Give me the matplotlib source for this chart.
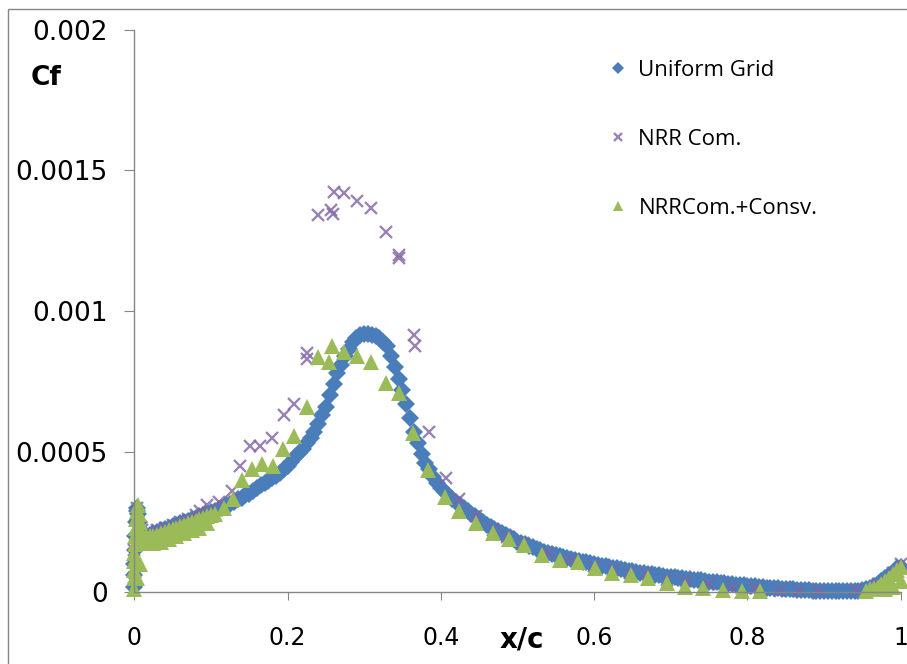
import numpy as np
import matplotlib
matplotlib.use("Agg")
import matplotlib.pyplot as plt
from matplotlib.patches import Rectangle

# Cf distribution along the chord (values in units of 1e-3)
uniform_x = [0.000, 0.000, 0.000, 0.001, 0.001, 0.002, 0.003, 0.004, 0.005, 0.006,
             0.008, 0.010, 0.015, 0.020, 0.025, 0.030, 0.035, 0.040, 0.045, 0.050,
             0.055, 0.060, 0.065, 0.070, 0.075, 0.080, 0.085, 0.090, 0.095, 0.100,
             0.105, 0.110, 0.115, 0.120, 0.125, 0.130, 0.135, 0.140, 0.145, 0.150,
             0.155, 0.160, 0.165, 0.170, 0.175, 0.180, 0.185, 0.190, 0.195, 0.200,
             0.205, 0.210, 0.215, 0.220, 0.225, 0.230, 0.235, 0.240, 0.245, 0.250,
             0.255, 0.260, 0.265, 0.270, 0.275, 0.280, 0.285, 0.290, 0.295, 0.300,
             0.305, 0.310, 0.315, 0.320, 0.325, 0.330, 0.335, 0.340, 0.345, 0.350,
             0.355, 0.360, 0.365, 0.370, 0.375, 0.380, 0.385, 0.390, 0.395, 0.400,
             0.405, 0.410, 0.415, 0.420, 0.425, 0.430, 0.435, 0.440, 0.445, 0.450,
             0.455, 0.460, 0.465, 0.470, 0.475, 0.480, 0.485, 0.490, 0.495, 0.500,
             0.505, 0.510, 0.515, 0.520, 0.525, 0.530, 0.535, 0.540, 0.545, 0.550,
             0.555, 0.560, 0.565, 0.570, 0.575, 0.580, 0.585, 0.590, 0.595, 0.600,
             0.605, 0.610, 0.615, 0.620, 0.625, 0.630, 0.635, 0.640, 0.645, 0.650,
             0.655, 0.660, 0.665, 0.670, 0.675, 0.680, 0.685, 0.690, 0.695, 0.700,
             0.705, 0.710, 0.715, 0.720, 0.725, 0.730, 0.735, 0.740, 0.745, 0.750,
             0.755, 0.760, 0.765, 0.770, 0.775, 0.780, 0.785, 0.790, 0.795, 0.800,
             0.805, 0.810, 0.815, 0.820, 0.825, 0.830, 0.835, 0.840, 0.845, 0.850,
             0.855, 0.860, 0.865, 0.870, 0.875, 0.880, 0.885, 0.890, 0.895, 0.900,
             0.905, 0.910, 0.915, 0.920, 0.925, 0.930, 0.935, 0.940, 0.945, 0.950,
             0.955, 0.960, 0.965, 0.970, 0.975, 0.980, 0.985, 0.990, 0.995, 1.000]
uniform_cf = [0.02, 0.06, 0.10, 0.15, 0.20, 0.25, 0.29, 0.30, 0.28, 0.25,
              0.22, 0.21, 0.205, 0.205, 0.21, 0.215, 0.22, 0.225, 0.23, 0.235,
              0.24, 0.245, 0.25, 0.255, 0.26, 0.265, 0.27, 0.275, 0.28, 0.285,
              0.29, 0.295, 0.30, 0.31, 0.315, 0.32, 0.33, 0.335, 0.345, 0.35,
              0.36, 0.37, 0.38, 0.39, 0.395, 0.405, 0.415, 0.425, 0.44, 0.45,
              0.465, 0.48, 0.495, 0.51, 0.53, 0.55, 0.57, 0.60, 0.63, 0.66,
              0.70, 0.74, 0.78, 0.81, 0.84, 0.865, 0.89, 0.905, 0.915, 0.92,
              0.92, 0.915, 0.91, 0.905, 0.89, 0.875, 0.84, 0.80, 0.76, 0.72,
              0.67, 0.62, 0.57, 0.53, 0.49, 0.46, 0.44, 0.41, 0.39, 0.37,
              0.357, 0.345, 0.332, 0.32, 0.31, 0.30, 0.29, 0.28, 0.27, 0.26,
              0.25, 0.24, 0.232, 0.225, 0.218, 0.21, 0.202, 0.195, 0.188, 0.18,
              0.175, 0.17, 0.165, 0.16, 0.155, 0.15, 0.145, 0.14, 0.136, 0.132,
              0.128, 0.125, 0.121, 0.118, 0.115, 0.112, 0.109, 0.106, 0.103, 0.10,
              0.097, 0.095, 0.092, 0.09, 0.087, 0.085, 0.082, 0.08, 0.077, 0.075,
              0.072, 0.07, 0.068, 0.066, 0.064, 0.062, 0.06, 0.058, 0.056, 0.055,
              0.053, 0.052, 0.05, 0.048, 0.046, 0.045, 0.043, 0.042, 0.04, 0.038,
              0.036, 0.035, 0.033, 0.032, 0.03, 0.029, 0.027, 0.026, 0.025, 0.024,
              0.022, 0.021, 0.019, 0.018, 0.017, 0.016, 0.015, 0.014, 0.013, 0.012,
              0.011, 0.010, 0.009, 0.008, 0.007, 0.007, 0.006, 0.006, 0.005, 0.005,
              0.004, 0.004, 0.003, 0.003, 0.003, 0.003, 0.003, 0.004, 0.006, 0.008,
              0.011, 0.015, 0.022, 0.03, 0.04, 0.05, 0.06, 0.07, 0.085, 0.09]

nrr_x = [0.000, 0.000, 0.002, 0.004, 0.010, 0.020, 0.030, 0.040, 0.050, 0.060,
         0.070, 0.080, 0.086, 0.095, 0.110, 0.128, 0.138, 0.151, 0.164, 0.180,
         0.195, 0.209, 0.225, 0.225, 0.240, 0.257, 0.259, 0.260, 0.274, 0.291,
         0.309, 0.328, 0.345, 0.345, 0.365, 0.366, 0.385, 0.407, 0.424, 0.446,
         0.468, 0.486, 0.507, 0.540, 0.570, 0.600, 0.625, 0.647, 0.668, 0.695,
         0.720, 0.750, 0.780, 0.810, 0.842, 0.868, 0.893, 0.942, 0.970, 0.990,
         1.000]
nrr_cf = [0.05, 0.15, 0.28, 0.30, 0.22, 0.21, 0.22, 0.23, 0.24, 0.25,
          0.26, 0.275, 0.29, 0.31, 0.32, 0.36, 0.45, 0.52, 0.52, 0.55,
          0.63, 0.67, 0.85, 0.83, 1.34, 1.36, 1.345, 1.425, 1.42, 1.39,
          1.365, 1.28, 1.20, 1.19, 0.915, 0.875, 0.57, 0.405, 0.33, 0.27,
          0.22, 0.195, 0.175, 0.14, 0.115, 0.095, 0.08, 0.068, 0.068, 0.045,
          0.04, 0.03, 0.02, 0.015, 0.004, 0.004, 0.004, 0.007, 0.03, 0.07,
          0.10]

consv_x = [0.000, 0.000, 0.000, 0.000, 0.000, 0.001, 0.001, 0.002, 0.002, 0.003,
           0.005, 0.006, 0.007, 0.008, 0.010, 0.015, 0.020, 0.025, 0.030, 0.035,
           0.040, 0.045, 0.050, 0.055, 0.060, 0.065, 0.070, 0.075, 0.080, 0.085,
           0.090, 0.095, 0.100, 0.106, 0.117, 0.129, 0.141, 0.154, 0.167, 0.181,
           0.194, 0.209, 0.225, 0.240, 0.254, 0.258, 0.274, 0.291, 0.309, 0.328,
           0.345, 0.364, 0.383, 0.405, 0.424, 0.446, 0.468, 0.489, 0.508, 0.532,
           0.555, 0.579, 0.601, 0.624, 0.648, 0.670, 0.695, 0.718, 0.742, 0.768,
           0.793, 0.816, 0.955, 0.960, 0.965, 0.970, 0.975, 0.980, 0.985, 0.990,
           0.995, 1.000, 1.000, 0.990, 0.980,
           0.004, 0.008, 0.012, 0.018, 0.025, 0.035, 0.045, 0.055, 0.065, 0.075,
           0.085, 0.095, 0.008, 0.004]
consv_cf = [0.01, 0.05, 0.08, 0.11, 0.14, 0.17, 0.20, 0.23, 0.26, 0.29,
            0.31, 0.28, 0.25, 0.22, 0.205, 0.20, 0.20, 0.20, 0.205, 0.21,
            0.215, 0.22, 0.225, 0.23, 0.235, 0.24, 0.245, 0.25, 0.255, 0.26,
            0.265, 0.27, 0.275, 0.28, 0.30, 0.33, 0.40, 0.44, 0.455, 0.45,
            0.51, 0.555, 0.66, 0.835, 0.82, 0.875, 0.855, 0.84, 0.82, 0.745,
            0.71, 0.565, 0.435, 0.34, 0.29, 0.245, 0.21, 0.19, 0.168, 0.132,
            0.114, 0.107, 0.086, 0.068, 0.061, 0.05, 0.032, 0.018, 0.014, 0.007,
            0.004, 0.004, 0.005, 0.01, 0.015, 0.02, 0.03, 0.04, 0.05, 0.065,
            0.08, 0.09, 0.04, 0.02, 0.01,
            0.20, 0.18, 0.175, 0.175, 0.175, 0.18, 0.19, 0.20, 0.21, 0.22,
            0.23, 0.245, 0.10, 0.05]

x_ticks = [0, 0.2, 0.4, 0.6, 0.8, 1]
x_tick_labels = ["0", "0.2", "0.4", "0.6", "0.8", "1"]
y_ticks = [0, 0.0005, 0.001, 0.0015, 0.002]
y_tick_labels = ["0", "0.0005", "0.001", "0.0015", "0.002"]

blue = "#4A7EBB"
purple = "#8064A2"
green = "#9BBB59"
axis_grey = "#868686"

fig = plt.figure(figsize=(9.07, 6.64), dpi=100)
ax = fig.add_axes([0.148, 0.108, 0.845, 0.847])

sc = 1e-3
ax.plot(uniform_x, np.array(uniform_cf) * sc, linestyle="none", marker="D",
        markersize=9.5, color=blue, markeredgewidth=0, clip_on=False,
        label="Uniform Grid")
ax.plot(nrr_x, np.array(nrr_cf) * sc, linestyle="none", marker="x",
        markersize=9, markeredgewidth=1.7, color=purple, alpha=0.8,
        clip_on=False, label="NRR Com.")
ax.plot(consv_x, np.array(consv_cf) * sc, linestyle="none", marker="^",
        markersize=11.5, color=green, markeredgewidth=0, clip_on=False,
        label="NRRCom.+Consv.")

ax.set_xlim(0, 1)
ax.set_ylim(0, 0.002)
ax.set_xticks(x_ticks)
ax.set_xticklabels(x_tick_labels)
ax.set_yticks(y_ticks)
ax.set_yticklabels(y_tick_labels)

for side in ["top", "right"]:
    ax.spines[side].set_visible(False)
for side in ["left", "bottom"]:
    ax.spines[side].set_color(axis_grey)
    ax.spines[side].set_linewidth(1.0)
ax.tick_params(axis="x", direction="out", length=6, color=axis_grey,
               labelsize=17, pad=18)
ax.tick_params(axis="y", direction="out", length=7, color=axis_grey,
               labelsize=19, pad=12)

# axis titles sit inside the chart area like the spreadsheet layout
fig.text(46 / 907, 1 - 78 / 664, "Cf", fontsize=19, fontweight="bold",
         ha="center", va="center")
fig.text(522 / 907, 1 - 640 / 664, "x/c", fontsize=20, fontweight="bold",
         ha="center", va="center")

leg = ax.legend(loc="upper left", bbox_to_anchor=(0.594, 0.982), frameon=False,
                fontsize=16, labelspacing=2.15, handlelength=0.8,
                handletextpad=0.5, markerscale=0.6)
for t in leg.get_texts():
    t.set_fontfamily(["Open Sans", "DejaVu Sans"])

# chart frame
fig.patches.append(Rectangle((8 / 907, -0.1), 1.2, 1 - 9 / 664 + 0.1,
                             transform=fig.transFigure, fill=False,
                             edgecolor=axis_grey, linewidth=1.0))

fig.savefig("out.png", dpi=100)
